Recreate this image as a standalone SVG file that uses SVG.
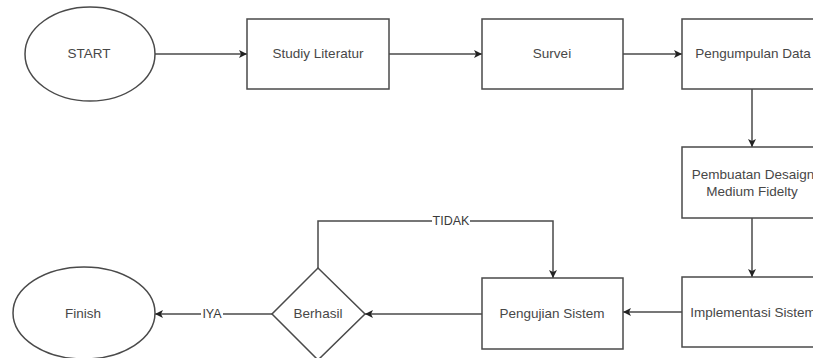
<svg xmlns="http://www.w3.org/2000/svg" width="813" height="358" viewBox="0 0 813 358">
<defs>
<style>
.s{fill:#fff;stroke:#4a4a4a;stroke-width:1.5}
.t{font-family:"Liberation Sans",Arial,sans-serif;font-size:13.5px;fill:#474747;text-anchor:middle;dominant-baseline:central}
.l{font-family:"Liberation Sans",Arial,sans-serif;font-size:12.5px;fill:#3a3a3a;text-anchor:middle;dominant-baseline:central}
.c{fill:none;stroke:#4a4a4a;stroke-width:1.5}
.bg{fill:#fff}
</style>
<marker id="a" viewBox="0 0 10 10" refX="10" refY="5" markerWidth="8" markerHeight="8" markerUnits="userSpaceOnUse" orient="auto">
<path d="M0,0 L10,5 L0,10 L2.5,5 Z" fill="#222"/>
</marker>
</defs>
<rect width="813" height="358" fill="#fff"/>
<g id="connectors">
<path class="c" d="M155,54 L247,54" marker-end="url(#a)"/>
<path class="c" d="M389,54 L482,54" marker-end="url(#a)"/>
<path class="c" d="M623,54 L682,54" marker-end="url(#a)"/>
<path class="c" d="M752,89 L752,147" marker-end="url(#a)"/>
<path class="c" d="M752,218 L752,277" marker-end="url(#a)"/>
<path class="c" d="M682,312 L623,312" marker-end="url(#a)"/>
<path class="c" d="M482,314 L365,314" marker-end="url(#a)"/>
<path class="c" d="M272,314 L155,314" marker-end="url(#a)"/>
<path class="c" d="M318,268 L318,221 L553,221 L553,278" marker-end="url(#a)"/>
<rect class="bg" x="201" y="308" width="22" height="12"/>
<text class="l" x="212" y="314">IYA</text>
<rect class="bg" x="432" y="215" width="38" height="12"/>
<text class="l" x="451" y="221">TIDAK</text>
</g>
<g id="start">
<ellipse class="s" cx="90" cy="54" rx="65" ry="47"/>
<text class="t" x="89" y="53">START</text>
</g>
<g id="studiy-literatur">
<rect class="s" x="247" y="19" width="142" height="70"/>
<text class="t" x="318" y="53">Studiy Literatur</text>
</g>
<g id="survei">
<rect class="s" x="482" y="19" width="141" height="70"/>
<text class="t" x="552" y="53">Survei</text>
</g>
<g id="pengumpulan-data">
<rect class="s" x="682" y="19" width="142" height="70"/>
<text class="t" x="753" y="53">Pengumpulan Data</text>
</g>
<g id="pembuatan-desaign">
<rect class="s" x="682" y="147" width="142" height="71"/>
<text class="t" x="753" y="174">Pembuatan Desaign</text>
<text class="t" x="752" y="191">Medium Fidelty</text>
</g>
<g id="implementasi-sistem">
<rect class="s" x="682" y="277" width="142" height="70"/>
<text class="t" x="753" y="312">Implementasi Sistem</text>
</g>
<g id="pengujian-sistem">
<rect class="s" x="482" y="278" width="141" height="71"/>
<text class="t" x="552" y="313">Pengujian Sistem</text>
</g>
<g id="berhasil">
<path class="s" d="M318,268 L365,314 L318,360 L272,314 Z"/>
<text class="t" x="318" y="313">Berhasil</text>
</g>
<g id="finish">
<ellipse class="s" cx="84" cy="313" rx="71" ry="46"/>
<text class="t" x="83" y="313">Finish</text>
</g>
</svg>
